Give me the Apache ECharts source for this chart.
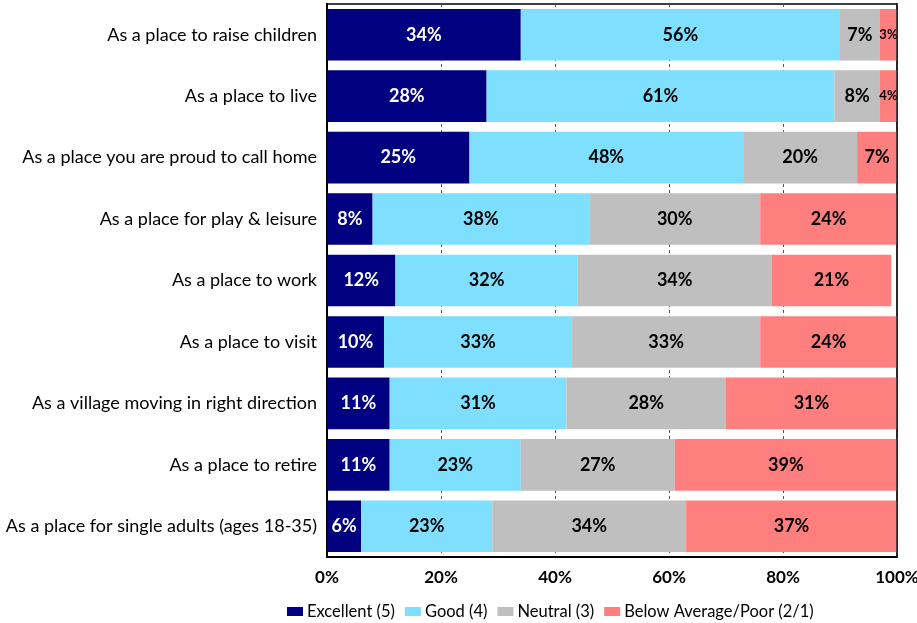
<!DOCTYPE html>
<html>
<head>
<meta charset="utf-8">
<script src="https://cdn.jsdelivr.net/npm/echarts@6/dist/echarts.min.js"></script>
<style>
  html, body { margin: 0; padding: 0; background: #fff; }
  #chart { width: 917px; height: 623px; }
</style>
</head>
<body>
<div id="chart"></div>
<script>
// Survey statements, top to bottom
const categories = [
  'As a place to raise children',
  'As a place to live',
  'As a place you are proud to call home',
  'As a place for play & leisure',
  'As a place to work',
  'As a place to visit',
  'As a village moving in right direction',
  'As a place to retire',
  'As a place for single adults (ages 18-35)'
];

// Percentage of respondents per rating
const excellent = [34, 28, 25, 8, 12, 10, 11, 11, 6];
const good      = [56, 61, 48, 38, 32, 33, 31, 23, 23];
const neutral   = [7, 8, 20, 30, 34, 33, 28, 27, 34];
const belowAvg  = [3, 4, 7, 24, 21, 24, 31, 39, 37];

const seriesNames = ['Excellent (5)', 'Good (4)', 'Neutral (3)', 'Below Average/Poor (2/1)'];
const xTicks = [0, 20, 40, 60, 80, 100];

const FONT = 'Lato, "Open Sans", sans-serif';
const colors = ['#000080', '#7FDFFF', '#BFBFBF', '#FF7F7F'];
const labelColors = ['#ffffff', '#000000', '#000000', '#000000'];

function makeSeries(name, data, idx) {
  return {
    name: name,
    type: 'bar',
    stack: 'total',
    barCategoryGap: '16%',
    data: data,
    itemStyle: { color: colors[idx] },
    label: {
      show: true,
      position: 'inside',
      formatter: p => p.value + '%',
      color: labelColors[idx],
      fontFamily: FONT,
      fontWeight: 'bold',
      fontSize: 18
    },
    // narrow segments get a smaller label so it fits
    labelLayout: p => (p.rect.width < 26 ? { fontSize: p.rect.width < 20 ? 13 : 15 } : {})
  };
}

const chart = echarts.init(document.getElementById('chart'), null, { renderer: 'canvas' });
chart.setOption({
  animation: false,
  backgroundColor: '#ffffff',
  grid: {
    left: 327, right: 20, top: 4, bottom: 66,
    containLabel: false,
    outerBoundsMode: 'none',
    show: true, borderColor: '#000', borderWidth: 1.5, backgroundColor: 'transparent'
  },
  legend: {
    data: seriesNames,
    top: 603,
    left: 287,
    padding: 0,
    icon: 'rect',
    itemWidth: 16,
    itemHeight: 9,
    itemGap: 10,
    textStyle: { fontFamily: FONT, fontSize: 16.5, color: '#000', padding: [0, 0, 0, -1] }
  },
  xAxis: {
    type: 'value',
    min: xTicks[0],
    max: xTicks[xTicks.length - 1],
    interval: 20,
    axisLine: { show: true, lineStyle: { color: '#000', width: 2 } },
    axisTick: { show: false },
    splitLine: { show: true, lineStyle: { color: '#555', type: [3, 3], width: 1 } },
    axisLabel: {
      formatter: '{value}%',
      fontFamily: FONT, fontWeight: 'bold', fontSize: 17, color: '#000', margin: 12
    }
  },
  yAxis: [
    {
      type: 'category',
      data: categories,
      inverse: true,
      axisLine: { show: true, lineStyle: { color: '#000', width: 2 } },
      axisTick: { show: false },
      axisLabel: { fontFamily: FONT, fontSize: 18, color: '#000', margin: 10 }
    },
    {
      // right-hand frame line drawn above the bars
      type: 'category',
      data: categories,
      inverse: true,
      position: 'right',
      z: 10,
      axisLine: { show: true, lineStyle: { color: '#222', width: 1.5 } },
      axisTick: { show: false },
      axisLabel: { show: false },
      splitLine: { show: false }
    }
  ],
  series: [
    makeSeries(seriesNames[0], excellent, 0),
    makeSeries(seriesNames[1], good, 1),
    makeSeries(seriesNames[2], neutral, 2),
    makeSeries(seriesNames[3], belowAvg, 3)
  ]
});
</script>
</body>
</html>
